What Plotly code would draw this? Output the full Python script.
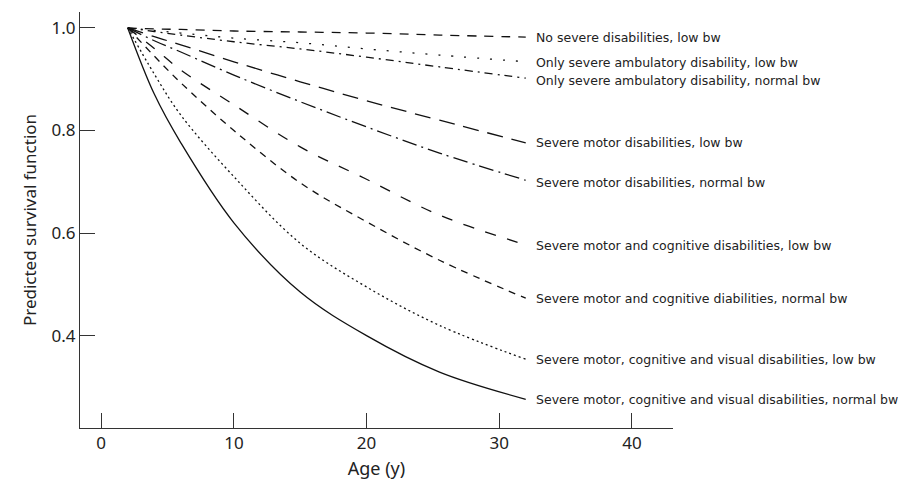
import plotly.graph_objects as go

ages = [2, 4, 6, 10, 15, 20, 25.5, 32]

no_severe_low = [1.0, 0.998, 0.997, 0.994, 0.992, 0.990, 0.986, 0.982]
amb_low = [1.0, 0.995, 0.990, 0.980, 0.971, 0.959, 0.947, 0.934]
amb_normal = [1.0, 0.993, 0.986, 0.973, 0.959, 0.943, 0.924, 0.902]
motor_low = [1.0, 0.983, 0.967, 0.934, 0.895, 0.858, 0.820, 0.776]
motor_normal = [1.0, 0.975, 0.953, 0.908, 0.856, 0.807, 0.756, 0.703]
mc_low = [1.0, 0.960, 0.918, 0.850, 0.768, 0.705, 0.635, 0.577]
mc_normal = [1.0, 0.945, 0.893, 0.800, 0.698, 0.622, 0.547, 0.473]
vis_low = [1.0, 0.910, 0.830, 0.710, 0.580, 0.495, 0.420, 0.354]
vis_normal = [1.0, 0.871, 0.776, 0.620, 0.485, 0.400, 0.329, 0.276]

labels = [
    "No severe disabilities, low bw",
    "Only severe ambulatory disability, low bw",
    "Only severe ambulatory disability, normal bw",
    "Severe motor disabilities, low bw",
    "Severe motor disabilities, normal bw",
    "Severe motor and cognitive disabilities, low bw",
    "Severe motor and cognitive diabilities, normal bw",
    "Severe motor, cognitive and visual disabilities, low bw",
    "Severe motor, cognitive and visual disabilities, normal bw",
]
series = [no_severe_low, amb_low, amb_normal, motor_low, motor_normal,
          mc_low, mc_normal, vis_low, vis_normal]
label_y = [0.982, 0.932, 0.898, 0.776, 0.698, 0.575, 0.472, 0.354, 0.276]

dashes = ["9px,8px", "2px,11px", "8px,5px,2px,5px", "16px,9px",
          "15px,5px,2px,5px", "11px,12px", "7px,6px", "2px,3px", "solid"]

FONT = "Noto Sans"
ANN_FONT = "DejaVu Sans"
fig = go.Figure()
for vals, d in zip(series, dashes):
    fig.add_trace(go.Scatter(x=ages, y=vals, mode="lines",
                             line=dict(color="#111", width=1.3, dash=d, shape="spline", smoothing=1.0),
                             showlegend=False, hoverinfo="skip"))

for lab, ly in zip(labels, label_y):
    fig.add_annotation(x=32.6, y=ly, xref="x", yref="y", text=lab, showarrow=False,
                       xanchor="left", yanchor="middle",
                       font=dict(family=ANN_FONT, size=12.5, color="#222"))

# page body adds an 8px offset, so the figure is 904x476 with margins shifted by 8px
fig.update_layout(
    width=904, height=476,
    margin=dict(l=72, r=239, t=4, b=56),
    paper_bgcolor="white", plot_bgcolor="white",
    font=dict(family=FONT, size=17, color="#222"),
)
fig.update_xaxes(range=[-1.6, 43.1], tickvals=[0, 10, 20, 30, 40], ticks="inside",
                 ticklen=15, tickwidth=1, tickcolor="#333", showline=True, linecolor="#333",
                 linewidth=1, showgrid=False, zeroline=False, automargin=False,
                 title=dict(text="Age (y)", standoff=8, font=dict(size=18)))
fig.update_yaxes(range=[0.22, 1.031], tickvals=[0.4, 0.6, 0.8, 1.0], ticktext=["0.4", "0.6", "0.8", "1.0"],
                 ticks="inside", ticklen=15, tickwidth=1, tickcolor="#333", showline=True,
                 linecolor="#333", linewidth=1, showgrid=False, zeroline=False, automargin=False,
                 title=dict(text="Predicted survival function", standoff=10, font=dict(size=17)))

fig.write_html("out.html")
